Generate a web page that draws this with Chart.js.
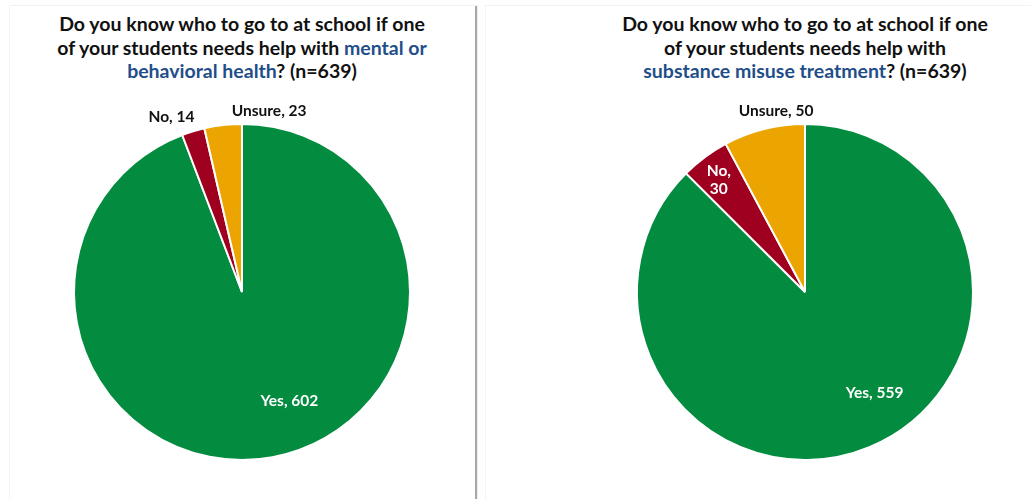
<!DOCTYPE html>
<html>
<head>
<meta charset="utf-8">
<script src="https://cdn.jsdelivr.net/npm/chart.js@4/dist/chart.umd.min.js"></script>
<style>
  body { margin: 0; background: #fff; width: 1031px; height: 499px; overflow: hidden; position: relative; font-family: "Lato", sans-serif; }
  .panel { position: absolute; top: 5px; height: 500px; border-top: 1px solid #f2f2f2; border-left: 1px solid #f4f4f4; background: #fff; }
  #panelLeft { left: 9px; width: 465px; box-shadow: 3px 0 1px -1px #a8a8a8; }
  #panelRight { left: 485px; width: 560px; }
  .title { position: absolute; top: 12px; font-weight: 700; font-size: 19.5px; line-height: 23.5px; color: #111; text-align: center; width: 440px; }
  .title .hl { color: #1f4e89; }
  canvas { position: absolute; }
</style>
</head>
<body>
<div class="panel" id="panelLeft"></div>
<div class="panel" id="panelRight"></div>

<div class="title" style="left:22px">Do you know who to go to at school if one<br>of your students needs help with <span class="hl">mental or<br>behavioral health</span>? (n=639)</div>
<div class="title" style="left:585px">Do you know who to go to at school if one<br>of your students needs help with<br><span class="hl">substance misuse treatment</span>? (n=639)</div>

<div style="position:absolute;left:42px;top:95px;width:400px;height:394px"><canvas id="pieMental"></canvas></div>
<div style="position:absolute;left:605px;top:95px;width:400px;height:394px"><canvas id="pieSubstance"></canvas></div>

<script>
const answers = ['Yes', 'No', 'Unsure'];
const mentalCounts = [602, 14, 23];
const substanceCounts = [559, 30, 50];
const sliceColors = ['#038b3f', '#a0001f', '#eba400'];

// draws "Label, value" next to each slice; place = [angle shift in degrees, radius factor, inside?, two lines?]
const sliceLabels = {
  id: 'sliceLabels',
  afterDatasetsDraw(chart, args, opts) {
    const { ctx } = chart;
    const meta = chart.getDatasetMeta(0);
    const values = chart.data.datasets[0].data;
    ctx.save();
    ctx.font = 'bold 15.5px Lato, sans-serif';
    ctx.textAlign = 'center';
    ctx.textBaseline = 'middle';
    meta.data.forEach((arc, i) => {
      const [shift, factor, inside, split] = opts.place[i];
      const mid = (arc.startAngle + arc.endAngle) / 2 + shift * Math.PI / 180;
      const r = arc.outerRadius * factor;
      const x = arc.x + Math.cos(mid) * r;
      const y = arc.y + Math.sin(mid) * r;
      ctx.fillStyle = inside ? '#fff' : '#111';
      const text = chart.data.labels[i] + ',';
      if (split) {
        ctx.fillText(text, x, y - 9);
        ctx.fillText(String(values[i]), x, y + 9);
      } else {
        ctx.fillText(text + ' ' + values[i], x, y);
      }
    });
    ctx.restore();
  },
};

const makePie = (id, counts, place) => {
  // eslint-disable-next-line no-new, no-undef
  new Chart(document.getElementById(id), {
    type: 'pie',
    data: {
      labels: answers,
      datasets: [{
        data: counts,
        backgroundColor: sliceColors,
        borderColor: '#ffffff',
        borderWidth: 2,
      }],
    },
    options: {
      responsive: true,
      maintainAspectRatio: false,
      animation: false,
      radius: 168,
      plugins: {
        legend: { display: false },
        tooltip: { enabled: false },
        sliceLabels: { place },
      },
    },
    plugins: [sliceLabels],
  });
};

makePie('pieMental', mentalCounts, [[-13, 0.71, true, false], [-5, 1.125, false, false], [15, 1.09, false, false]]);
makePie('pieSubstance', substanceCounts, [[-12, 0.73, true, false], [-1, 0.84, true, true], [5, 1.09, false, false]]);
</script>
</body>
</html>
